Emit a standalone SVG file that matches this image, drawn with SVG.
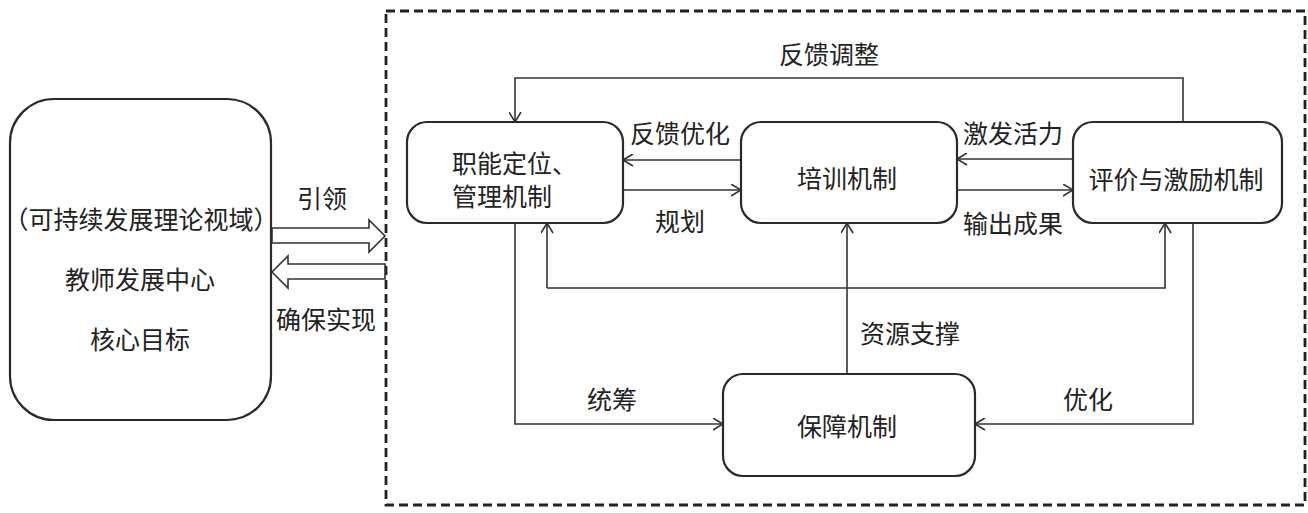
<svg xmlns="http://www.w3.org/2000/svg" width="1308" height="513" viewBox="0 0 1308 513">
<style>
text{font-family:"Noto Sans CJK SC","Noto Sans",sans-serif;font-size:25px;fill:#222;dominant-baseline:central;text-anchor:middle}
.node{fill:#fff;stroke:#2a2a2a;stroke-width:2.2}
.conn{fill:none;stroke:#333;stroke-width:1.6}
.hollow{fill:#fff;stroke:#333;stroke-width:1.6;stroke-linejoin:miter}
</style>
<defs>
<marker id="arr" viewBox="0 0 11 13" refX="10.5" refY="6.5" markerWidth="11" markerHeight="13" markerUnits="userSpaceOnUse" orient="auto">
<path d="M0.5,0.5 L10.5,6.5 L0.5,12.5" fill="none" stroke="#333" stroke-width="1.6"/>
</marker>
</defs>
<rect id="frame" x="386" y="11" width="919" height="494" fill="none" stroke="#222" stroke-width="2.8" stroke-dasharray="9,5"/>
<g id="left-goal">
<rect class="node" x="10" y="99" width="261" height="321" rx="44" ry="44"/>
<text x="141" y="218">（可持续发展理论视域）</text>
<text x="140" y="278">教师发展中心</text>
<text x="140" y="338">核心目标</text>
</g>
<g id="hollow-arrows">
<polygon class="hollow" points="272,228 369,228 369,220 385,236 369,252 369,243 272,243"/>
<polygon class="hollow" points="385,264 288,264 288,256 272,272 288,288 288,279 385,279"/>
<text x="322" y="197">引领</text>
<text x="326" y="318">确保实现</text>
</g>
<g id="connectors">
<polyline class="conn" points="1183,122 1183,78 515,78 515,122" marker-end="url(#arr)"/>
<line class="conn" x1="741" y1="160" x2="623" y2="160" marker-end="url(#arr)"/>
<line class="conn" x1="623" y1="190" x2="741" y2="190" marker-end="url(#arr)"/>
<line class="conn" x1="1073" y1="159" x2="957" y2="159" marker-end="url(#arr)"/>
<line class="conn" x1="957" y1="190" x2="1073" y2="190" marker-end="url(#arr)"/>
<polyline class="conn" points="547,288 547,223" marker-end="url(#arr)"/>
<polyline class="conn" points="547,288 1165,288 1165,223" marker-end="url(#arr)"/>
<line class="conn" x1="847" y1="374" x2="847" y2="223" marker-end="url(#arr)"/>
<polyline class="conn" points="515,223 515,424 723,424" marker-end="url(#arr)"/>
<polyline class="conn" points="1193,223 1193,424 975,424" marker-end="url(#arr)"/>
<text x="829" y="53">反馈调整</text>
<text x="680" y="132">反馈优化</text>
<text x="680" y="220">规划</text>
<text x="1013" y="132">激发活力</text>
<text x="1013" y="222">输出成果</text>
<text x="910" y="332">资源支撑</text>
<text x="612" y="398">统筹</text>
<text x="1088" y="398">优化</text>
</g>
<g id="node-management">
<rect class="node" x="407" y="122" width="216" height="101" rx="20" ry="20"/>
<text x="452" y="162" style="text-anchor:start">职能定位、</text>
<text x="452" y="195" style="text-anchor:start">管理机制</text>
</g>
<g id="node-training">
<rect class="node" x="741" y="122" width="216" height="101" rx="20" ry="20"/>
<text x="847" y="177">培训机制</text>
</g>
<g id="node-evaluation">
<rect class="node" x="1073" y="122" width="209" height="101" rx="20" ry="20"/>
<text x="1176" y="178">评价与激励机制</text>
</g>
<g id="node-support">
<rect class="node" x="723" y="374" width="252" height="102" rx="20" ry="20"/>
<text x="847" y="425">保障机制</text>
</g>
</svg>
